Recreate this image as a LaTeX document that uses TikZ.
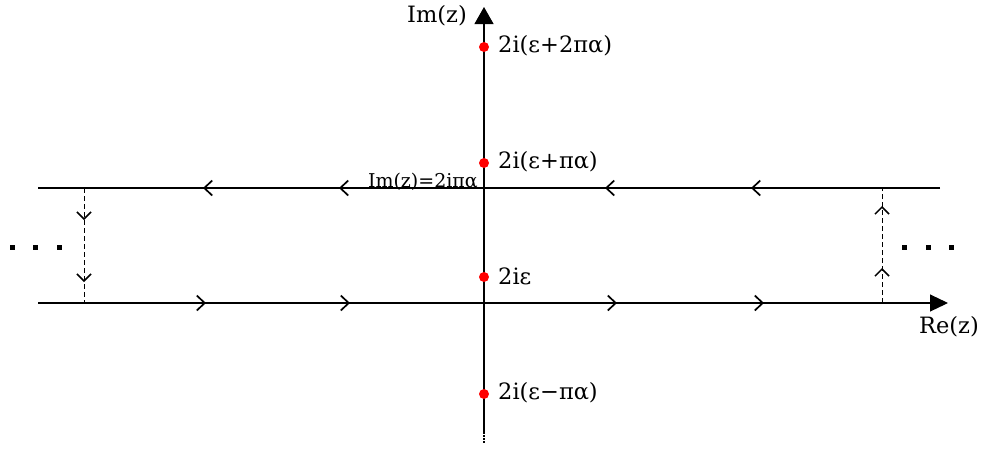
\documentclass[tikz,border=0pt]{standalone}
\usepackage{fontspec}
\setmainfont{DejaVu Serif}
\usetikzlibrary{arrows.meta,decorations.markings}
\begin{document}
\begin{tikzpicture}[x=1pt,y=-1pt,
  axis/.style={line width=1.1pt},
  reddot/.style={circle,fill=red,inner sep=0pt,minimum size=10pt},
  sqdot/.style={rectangle,fill=black,inner sep=0pt,minimum size=5pt},
  bigfont/.style={font=\fontsize{22.5}{24}\selectfont},
  lbl/.style={anchor=west,bigfont,inner sep=0pt},
  contourdash/.style={line width=0.9pt,dash pattern=on 5pt off 3pt}]
\useasboundingbox (0,0) rectangle (981,448);
% coordinates
\coordinate (imbot) at (484,443);
\coordinate (imdot) at (484,432);
\coordinate (imtop) at (484,7);
\coordinate (rel) at (38,303);
\coordinate (rer) at (948,303);
\coordinate (topr) at (940,188);
\coordinate (topl) at (38,188);
\coordinate (ldt) at (84,188);
\coordinate (ldb) at (84,303);
\coordinate (rdb) at (882,303);
\coordinate (rdt) at (882,188);
% imaginary axis
\draw[line width=1.6pt,dash pattern=on 1.6pt off 1.4pt] (imdot) -- (imbot);
\draw[axis,-{Triangle[length=17pt,width=19pt]}] (imdot) -- (imtop);
% real axis / lower contour
\draw[axis,-{Triangle[length=18pt,width=17pt]},
  postaction={decorate,decoration={markings,
    mark=at position 168pt with {\arrow[line width=1.7pt]{Straight Barb[length=8pt,width=15pt]}},
    mark=at position 312pt with {\arrow[line width=1.7pt]{Straight Barb[length=8pt,width=15pt]}},
    mark=at position 579pt with {\arrow[line width=1.7pt]{Straight Barb[length=8pt,width=15pt]}},
    mark=at position 726pt with {\arrow[line width=1.7pt]{Straight Barb[length=8pt,width=15pt]}}}}]
  (rel) -- (rer);
% upper contour
\draw[axis,
  postaction={decorate,decoration={markings,
    mark=at position 189pt with {\arrow[line width=1.7pt]{Straight Barb[length=8pt,width=15pt]}},
    mark=at position 335pt with {\arrow[line width=1.7pt]{Straight Barb[length=8pt,width=15pt]}},
    mark=at position 601pt with {\arrow[line width=1.7pt]{Straight Barb[length=8pt,width=15pt]}},
    mark=at position 737pt with {\arrow[line width=1.7pt]{Straight Barb[length=8pt,width=15pt]}}}}]
  (topr) -- (topl);
% dashed verticals
\draw[contourdash,
  postaction={decorate,decoration={markings,
    mark=at position 32pt with {\arrow[solid,line width=1.5pt]{Straight Barb[length=7pt,width=14pt]}},
    mark=at position 94pt with {\arrow[solid,line width=1.5pt]{Straight Barb[length=7pt,width=14pt]}}}}]
  (ldt) -- (ldb);
\draw[contourdash,
  postaction={decorate,decoration={markings,
    mark=at position 35pt with {\arrow[solid,line width=1.5pt]{Straight Barb[length=7pt,width=14pt]}},
    mark=at position 97pt with {\arrow[solid,line width=1.5pt]{Straight Barb[length=7pt,width=14pt]}}}}]
  (rdb) -- (rdt);
% red poles
\node[reddot] (p1) at (484,47) {};
\node[reddot] (p2) at (484,163) {};
\node[reddot] (p3) at (484,277) {};
\node[reddot] (p4) at (484,394) {};
\node[lbl] (l1) at (498,46) {2i(ε+2πα)};
\node[lbl] (l2) at (498,162) {2i(ε+πα)};
\node[lbl] (l3) at (498,276) {2iε};
\node[lbl] (l4) at (498,393) {2i(ε−πα)};
% axis labels
\node[anchor=east,inner sep=0pt,bigfont] (iml) at (467,16) {Im(z)};
\node[anchor=east,inner sep=0pt,bigfont] (rel2) at (979,327) {Re(z)};
\node[anchor=south east,inner sep=0pt,font=\fontsize{19}{21}\selectfont] (line) at (478,191) {Im(z)=2iπα};
% ellipsis dots
\node[sqdot] (a1) at (12,247) {};
\node[sqdot] (a2) at (35,247) {};
\node[sqdot] (a3) at (59,247) {};
\node[sqdot] (b1) at (904,247) {};
\node[sqdot] (b2) at (928,247) {};
\node[sqdot] (b3) at (951,247) {};
\end{tikzpicture}
\end{document}
